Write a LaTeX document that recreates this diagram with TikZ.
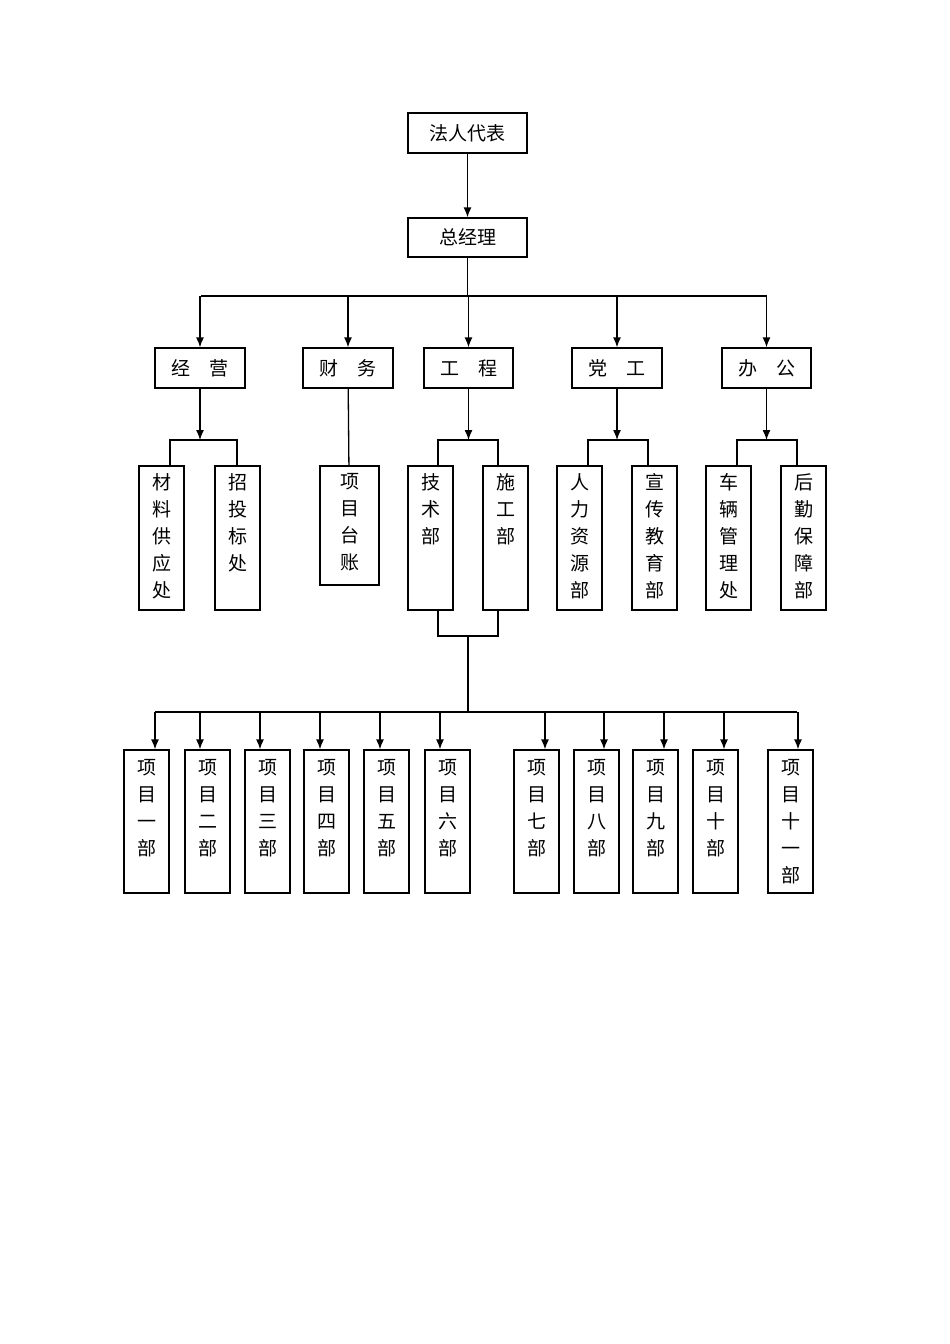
\documentclass[tikz,border=0pt]{standalone}
\usepackage{fontspec}
\setmainfont{Noto Sans CJK SC}
\usetikzlibrary{arrows.meta}
\begin{document}
\begin{tikzpicture}[x=1pt,y=-1pt,
  bx/.style={draw,line width=1.3pt,inner sep=0pt},
  vt/.style={anchor=north,align=center,font=\fontsize{19}{27}\selectfont,inner sep=0pt},
  ht/.style={font=\fontsize{19}{22}\selectfont},
  ln/.style={line width=1.3pt},
  arr/.style={line width=1.3pt,-{Latex[length=10pt,width=8pt]}}]
\useasboundingbox (0,0) rectangle (950,1344);
\newcommand{\mybox}[6]{%
  \node[bx,minimum width={#4-#2},minimum height={#5-#3}] (#1) at ({(#2+#4)/2},{(#3+#5)/2}) {};
  \node[vt] at ([yshift=-8pt]#1.north) {#6};}
\node[bx,ht,minimum width=119,minimum height=40] (fr) at (467.5,133) {法人代表};
\node[bx,ht,minimum width=119,minimum height=39] (zjl) at (467.5,237.5) {总经理};
\draw[arr] (fr) -- (zjl);
\coordinate (bl) at (201,296); \coordinate (br) at (767,296);
\draw[ln] (zjl.south) -- (zjl.south |- bl);
\draw[ln] (bl) -- (br);
\node[bx,ht,minimum width=90,minimum height=40] (jy) at (200,368) {经\quad 营};
\node[bx,ht,minimum width=90,minimum height=40] (cw) at (348,368) {财\quad 务};
\node[bx,ht,minimum width=89,minimum height=40] (gc) at (468.5,368) {工\quad 程};
\node[bx,ht,minimum width=90,minimum height=40] (dg) at (617,368) {党\quad 工};
\node[bx,ht,minimum width=89,minimum height=40] (bg) at (766.5,368) {办\quad 公};
\foreach \n in {jy,cw,gc,dg,bg} \draw[arr] (\n.north |- bl) -- (\n.north);
\mybox{cl}{139}{466}{184}{610}{材\\料\\供\\应\\处}
\mybox{zt}{215}{466}{260}{610}{招\\投\\标\\处}
\mybox{xt}{320}{466}{379}{585}{项\\目\\台\\账}
\mybox{js}{408}{466}{453}{610}{技\\术\\部}
\mybox{sg}{483}{466}{528}{610}{施\\工\\部}
\mybox{rl}{557}{466}{602}{610}{人\\力\\资\\源\\部}
\mybox{xc}{632}{466}{677}{610}{宣\\传\\教\\育\\部}
\mybox{cg}{706}{466}{751}{610}{车\\辆\\管\\理\\处}
\mybox{hq}{781}{466}{826}{610}{后\\勤\\保\\障\\部}
\draw[ln] (cw) -- (xt);
\foreach \p/\a/\b/\l/\r in {jy/cl/zt/170/237, gc/js/sg/438/498, dg/rl/xc/588/648, bg/cg/hq/737/797}{
  \coordinate (L) at (\l,440); \coordinate (R) at (\r,440);
  \draw[arr] (\p.south) -- (\p.south |- L);
  \draw[ln] (L |- \a.north) -- (L) -- (R) -- (R |- \b.north);
}
\coordinate (jl) at (438,636); \coordinate (jr) at (498,636);
\draw[ln] (jl |- js.south) -- (jl) -- (jr) -- (jr |- sg.south);
\coordinate (jm) at (468,636);
\coordinate (pl) at (155,712); \coordinate (pr) at (797,712);
\draw[ln] (jm) -- (jm |- pl);
\draw[ln] (pl) -- (pr);
\foreach \i/\x/\ax/\t in {1/124/155/{项\\目\\一\\部},2/185/200/{项\\目\\二\\部},3/245/260/{项\\目\\三\\部},4/304/320/{项\\目\\四\\部},5/364/380/{项\\目\\五\\部},6/425/440/{项\\目\\六\\部},7/514/545/{项\\目\\七\\部},8/574/604/{项\\目\\八\\部},9/633/664/{项\\目\\九\\部},10/693/724/{项\\目\\十\\部},11/768/798/{项\\目\\十\\一\\部}}{
  \node[bx,minimum width=45,minimum height=143] (p\i) at ({\x+22.5},821.5) {};
  \node[vt] at ([yshift=-10pt]p\i.north) {\t};
  \coordinate (a\i) at (\ax,712);
  \draw[arr] (a\i) -- (a\i |- p\i.north);
}
\end{tikzpicture}
\end{document}
